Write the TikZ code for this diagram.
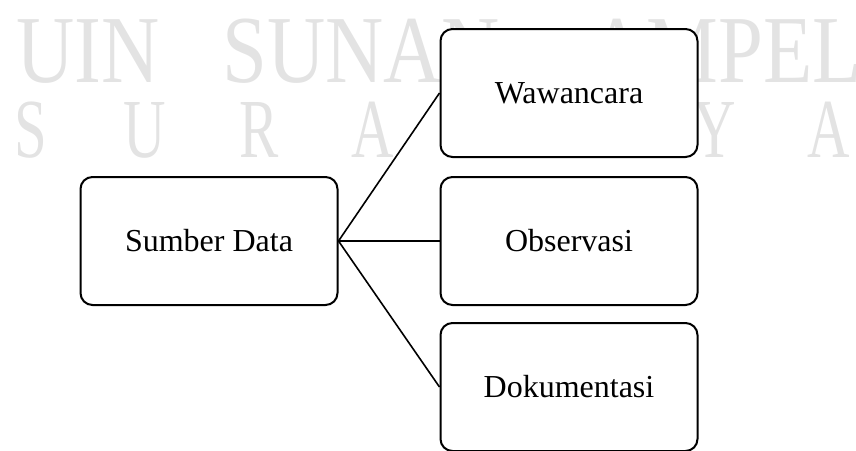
\documentclass[tikz,border=0pt]{standalone}
\usepackage{fontspec}
\setmainfont{Liberation Serif}
\tikzset{
	mybox/.style={draw, line width=1pt, rounded corners=6pt, fill=white,
		minimum width=128.5pt, minimum height=64pt, font=\fontsize{16}{19}\selectfont},
	myline/.style={line width=0.8pt},
	mymark/.style={text=gray!22, inner sep=0pt}
}
\begin{document}
\begin{tikzpicture}[x=0.5pt, y=-0.5pt]
	\useasboundingbox (0, 0) rectangle (856, 450);
	
	\node[mymark, anchor=base west] (uin) at (16, 82) {\fontsize{48}{58}\selectfont\scalebox{0.84}[1]{UIN}};
	\node[mymark, anchor=base west] (sunan) at (222, 82) {\fontsize{48}{58}\selectfont\scalebox{0.84}[1]{SUNAN}};
	\node[mymark, anchor=base east] (ampel) at (862, 82) {\fontsize{48}{58}\selectfont\scalebox{0.84}[1]{AMPEL}};
	\foreach \ch [count=\i from 0] in {S,U,R,A,B,A,Y,A}
		\node[mymark, anchor=base] (sby\i) at (31+114*\i, 157) {\fontsize{42}{50}\selectfont\scalebox{0.7}[1]{\ch}};
	
	\node[mybox] (sumber) at (209, 241) {Sumber Data};
	\node[mybox] (wawancara) at (569, 93) {Wawancara};
	\node[mybox] (observasi) at (569, 241) {Observasi};
	\node[mybox] (dokumentasi) at (569, 387) {Dokumentasi};
	
	\draw[myline] (sumber.east) -- (wawancara.west);
	\draw[myline] (sumber.east) -- (observasi.west);
	\draw[myline] (sumber.east) -- (dokumentasi.west);
\end{tikzpicture}
\end{document}
